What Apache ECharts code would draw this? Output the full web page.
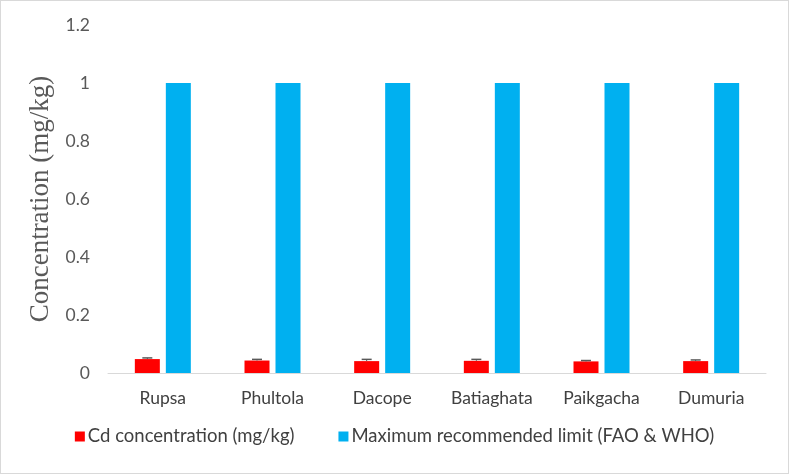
<!DOCTYPE html>
<html><head><meta charset="utf-8">
<script src="https://cdn.jsdelivr.net/npm/echarts@6/dist/echarts.min.js"></script>
<style>
html,body{margin:0;padding:0;background:#fff;}
#wrap{position:absolute;left:0;top:0;width:787px;height:472px;border:1px solid #d9d9d9;}
#c{width:787px;height:472px;}
</style></head>
<body><div id="wrap"><div id="c"></div></div>
<script>
const categories = ['Rupsa','Phultola','Dacope','Batiaghata','Paikgacha','Dumuria'];
const cdValues = [0.048, 0.043, 0.041, 0.042, 0.040, 0.041];
const cdErrors = [0.004, 0.004, 0.006, 0.005, 0.003, 0.004];
const limitValues = [1, 1, 1, 1, 1, 1];
const yTicks = [0, 0.2, 0.4, 0.6, 0.8, 1, 1.2];

const chart = echarts.init(document.getElementById('c'));
const BW = 25, GAPPX = 6;
const FONT = 'Lato, Open Sans, sans-serif';
const errData = categories.map((c,i)=>[i, cdValues[i], cdValues[i]+cdErrors[i]]);
chart.setOption({
  animation:false,
  grid:{left:107,right:22,top:24,bottom:100,containLabel:false},
  legend:{
    bottom:22, left:'center', itemWidth:10, itemHeight:10, itemGap:44,
    icon:'rect',
    textStyle:{fontFamily:FONT, fontSize:18.5, color:'#404040', padding:[0,0,0,-2]},
    data:['Cd concentration (mg/kg)','Maximum recommended limit (FAO & WHO)']
  },
  xAxis:{
    type:'category', data:categories,
    axisLine:{lineStyle:{color:'#d9d9d9',width:1}},
    axisTick:{show:false},
    axisLabel:{color:'#404040',fontSize:17.5,fontFamily:FONT,margin:16}
  },
  yAxis:{
    type:'value', min:0, max:1.2, interval:0.2,
    name:'Concentration (mg/kg)', nameLocation:'middle', nameGap:49,
    nameTextStyle:{fontFamily:'Liberation Serif, Times New Roman, serif',fontSize:27,color:'#595959'},
    axisLine:{show:false}, axisTick:{show:false}, splitLine:{show:false},
    axisLabel:{color:'#595959',fontSize:17.5,fontFamily:FONT,margin:18,
      formatter:v=>{ const t = yTicks.find(x=>Math.abs(x-v)<1e-9); return t===undefined? '' : String(+t.toFixed(1)); }}
  },
  series:[
    {name:'Cd concentration (mg/kg)', type:'bar', data:cdValues, barWidth:BW, barGap:'24%',
     itemStyle:{color:'#ff0000'}},
    {name:'Maximum recommended limit (FAO & WHO)', type:'bar', data:limitValues, barWidth:BW,
     itemStyle:{color:'#00b0f0'}},
    {type:'custom', name:'err', data:errData, z:10,
     renderItem:function(params, api){
       const x = api.value(0);
       const lo = api.coord([x, api.value(1)]);
       const hi = api.coord([x, api.value(2)]);
       const off = -(BW+GAPPX)/2;
       const cx = lo[0]+off;
       const hw = 5;
       return {type:'group', children:[
         {type:'line', shape:{x1:cx,y1:lo[1],x2:cx,y2:hi[1]}, style:{stroke:'#595959',lineWidth:1}},
         {type:'line', shape:{x1:cx-hw,y1:hi[1],x2:cx+hw,y2:hi[1]}, style:{stroke:'#595959',lineWidth:1.5}}
       ]};
     }}
  ]
});
</script></body></html>
